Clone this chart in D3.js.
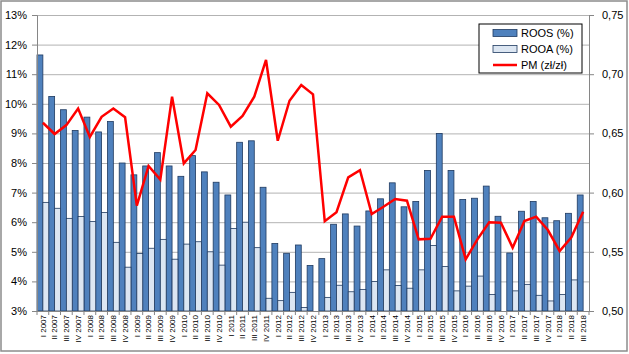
<!DOCTYPE html>
<html>
<head>
<meta charset="utf-8">
<script src="https://cdn.jsdelivr.net/npm/d3@7"></script>
<style>
  body { margin: 0; background: #fff; }
  svg { display: block; font-family: "Liberation Sans", Arial, sans-serif; }
</style>
</head>
<body>
<svg class="chart" width="629" height="354"></svg>
<script>
const categories = [
  "I 2007", "II 2007", "III 2007", "IV 2007",
  "I 2008", "II 2008", "III 2008", "IV 2008",
  "I 2009", "II 2009", "III 2009", "IV 2009",
  "I 2010", "II 2010", "III 2010", "IV 2010",
  "I 2011", "II 2011", "III 2011", "IV 2011",
  "I 2012", "II 2012", "III 2012", "IV 2012",
  "I 2013", "II 2013", "III 2013", "IV 2013",
  "I 2014", "II 2014", "III 2014", "IV 2014",
  "I 2015", "II 2015", "III 2015", "IV 2015",
  "I 2016", "II 2016", "III 2016", "IV 2016",
  "I 2017", "II 2017", "III 2017", "IV 2017",
  "I 2018", "II 2018", "III 2018"
];

// ROOS (%)
const roos = [
  11.65, 10.25, 9.8, 9.1,
  9.55, 9.05, 9.4, 8.0,
  7.6, 7.9, 8.35, 7.9,
  7.55, 8.25, 7.7, 7.35,
  6.92, 8.7, 8.75, 7.18,
  5.28, 4.95, 5.23, 4.54,
  4.77, 5.93, 6.28, 5.87,
  6.38, 6.79, 7.33, 6.52,
  6.7, 7.75, 9.0, 7.75,
  6.77, 6.81, 7.22, 6.2,
  4.96, 6.37, 6.7, 6.15,
  6.05, 6.3, 6.92
];

// ROOA (%) – brak wartości dla IV 2012, IV 2016, III 2018
const rooa = [
  6.67, 6.47, 6.13, 6.19,
  6.02, 6.33, 5.32, 4.48,
  4.94, 5.12, 5.42, 4.75,
  5.26, 5.34, 5.0, 4.55,
  5.79, 6.0, 5.14, 3.43,
  3.35, 3.63, 3.12, null,
  3.46, 3.87, 3.65, 3.73,
  4.0, 4.39, 3.86, 3.77,
  4.39, 5.21, 4.5, 3.68,
  3.84, 4.18, 3.56, null,
  3.68, 3.9, 3.53, 3.34,
  3.56, 4.05, null
];

// PM (zł/zł)
const pm = [
  0.659, 0.6495, 0.657, 0.671,
  0.647, 0.664, 0.671, 0.6636,
  0.589, 0.6225, 0.611, 0.681,
  0.6247, 0.636, 0.6839, 0.674,
  0.6557, 0.6647, 0.681, 0.712,
  0.6438, 0.6776, 0.6909, 0.683,
  0.5758, 0.5834, 0.6129, 0.619,
  0.5819, 0.588, 0.5946, 0.5932,
  0.5605, 0.561, 0.5797, 0.5797,
  0.5437, 0.5605, 0.5749, 0.5746,
  0.5535, 0.576, 0.5797, 0.5684,
  0.5507, 0.5622, 0.5839
];

const leftTicks = [3, 4, 5, 6, 7, 8, 9, 10, 11, 12, 13];
const rightTicks = [0.5, 0.55, 0.6, 0.65, 0.7, 0.75];

const svg = d3.select(".chart");
const width = 629;
const height = 354;

const plotLeft = 37, plotRight = 589, plotTop = 15, plotBottom = 311;

const x = d3.scaleBand().domain(categories).range([plotLeft, plotRight]).padding(0);
const xs = d3.scaleBand().domain(["roos", "rooa"]).range([0, x.bandwidth()]);
const yL = d3.scaleLinear().domain([3, 13]).range([plotBottom, plotTop]);
const yR = d3.scaleLinear().domain([0.5, 0.75]).range([plotBottom, plotTop]);

// ramka wykresu
svg.append("rect")
  .attr("x", 1).attr("y", 1)
  .attr("width", width - 3).attr("height", height - 4)
  .attr("fill", "#fff")
  .attr("stroke", "#8c8c8c")
  .attr("stroke-width", 1.5);

// siatka
svg.append("g")
  .attr("transform", `translate(${plotLeft},0)`)
  .call(d3.axisLeft(yL).tickValues(leftTicks).tickSize(-(plotRight - plotLeft)).tickFormat(""))
  .call(g => g.select(".domain").remove())
  .call(g => g.selectAll("line").attr("stroke", "#b3b3b3"));

// słupki
const bars = svg.append("g");
bars.selectAll(".roos")
  .data(categories)
  .join("rect")
  .attr("class", "roos")
  .attr("x", (d) => x(d) + xs("roos"))
  .attr("y", (d, i) => yL(roos[i]))
  .attr("width", xs.bandwidth())
  .attr("height", (d, i) => plotBottom - yL(roos[i]))
  .attr("fill", "#4f81bd")
  .attr("stroke", "#1f3a60")
  .attr("stroke-width", 0.8);

bars.selectAll(".rooa")
  .data(categories.filter((d, i) => rooa[i] != null))
  .join("rect")
  .attr("class", "rooa")
  .attr("x", (d) => x(d) + xs("rooa"))
  .attr("y", (d) => yL(rooa[categories.indexOf(d)]))
  .attr("width", xs.bandwidth())
  .attr("height", (d) => plotBottom - yL(rooa[categories.indexOf(d)]))
  .attr("fill", "#dce6f2")
  .attr("stroke", "#1f3a60")
  .attr("stroke-width", 0.8);

// lewa oś
svg.append("g")
  .attr("transform", `translate(${plotLeft},0)`)
  .call(d3.axisLeft(yL).tickValues(leftTicks).tickSize(5).tickPadding(5).tickFormat((d) => d + "%"))
  .call(g => g.select(".domain").attr("stroke", "#868686"))
  .call(g => g.selectAll("line").attr("stroke", "#868686"))
  .call(g => g.selectAll("text").attr("font-size", 11).attr("fill", "#000")
    .attr("font-family", "Liberation Sans, Arial, sans-serif"));

// prawa oś
svg.append("g")
  .attr("transform", `translate(${plotRight},0)`)
  .call(d3.axisRight(yR).tickValues(rightTicks).tickSize(5).tickPadding(8)
    .tickFormat((d) => d.toFixed(2).replace(".", ",")))
  .call(g => g.select(".domain").attr("stroke", "#868686"))
  .call(g => g.selectAll("line").attr("stroke", "#868686"))
  .call(g => g.selectAll("text").attr("font-size", 11).attr("fill", "#000")
    .attr("font-family", "Liberation Sans, Arial, sans-serif"));

// oś kategorii
const xAxis = svg.append("g")
  .attr("transform", `translate(0,${plotBottom})`)
  .call(d3.axisBottom(x).tickSize(0).tickPadding(0))
  .call(g => g.select(".domain").attr("stroke", "#868686"));

xAxis.selectAll("text")
  .attr("font-size", 8)
  .attr("fill", "#000")
  .attr("font-family", "Liberation Sans, Arial, sans-serif")
  .attr("text-anchor", "end")
  .attr("transform", "translate(0,4) rotate(-90)")
  .attr("x", 0)
  .attr("y", 0)
  .attr("dy", "0.35em");

// znaczniki między kategoriami
svg.append("g")
  .selectAll("line")
  .data(categories.concat(["end"]))
  .join("line")
  .attr("x1", (d, i) => i < categories.length ? x(d) : plotRight)
  .attr("x2", (d, i) => i < categories.length ? x(d) : plotRight)
  .attr("y1", plotBottom)
  .attr("y2", plotBottom + 4)
  .attr("stroke", "#868686");

// linia PM
const line = d3.line()
  .x((d, i) => x(categories[i]) + x.bandwidth() / 2)
  .y((d) => yR(d));

svg.append("path")
  .datum(pm)
  .attr("d", line)
  .attr("fill", "none")
  .attr("stroke", "#ff0000")
  .attr("stroke-width", 2.5)
  .attr("stroke-linejoin", "miter");

// legenda
const legend = svg.append("g").attr("transform", "translate(479,24)");
legend.append("rect")
  .attr("width", 103).attr("height", 49)
  .attr("fill", "#fff")
  .attr("stroke", "#000")
  .attr("stroke-width", 1);

const legendItems = [
  { name: "ROOS (%)", type: "bar", fill: "#4f81bd" },
  { name: "ROOA (%)", type: "bar", fill: "#dce6f2" },
  { name: "PM (zł/zł)", type: "line", fill: "#ff0000" }
];

legendItems.forEach((item, i) => {
  const cy = 9 + i * 16;
  if (item.type === "bar") {
    legend.append("rect")
      .attr("x", 14).attr("y", cy - 3.5)
      .attr("width", 24).attr("height", 7)
      .attr("fill", item.fill)
      .attr("stroke", "#1f3a60")
      .attr("stroke-width", 0.8);
  } else {
    legend.append("line")
      .attr("x1", 14).attr("x2", 38)
      .attr("y1", cy).attr("y2", cy)
      .attr("stroke", item.fill)
      .attr("stroke-width", 2.5);
  }
  legend.append("text")
    .attr("x", 42).attr("y", cy)
    .attr("dy", "0.35em")
    .attr("font-size", 11)
    .text(item.name);
});
</script>
</body>
</html>
